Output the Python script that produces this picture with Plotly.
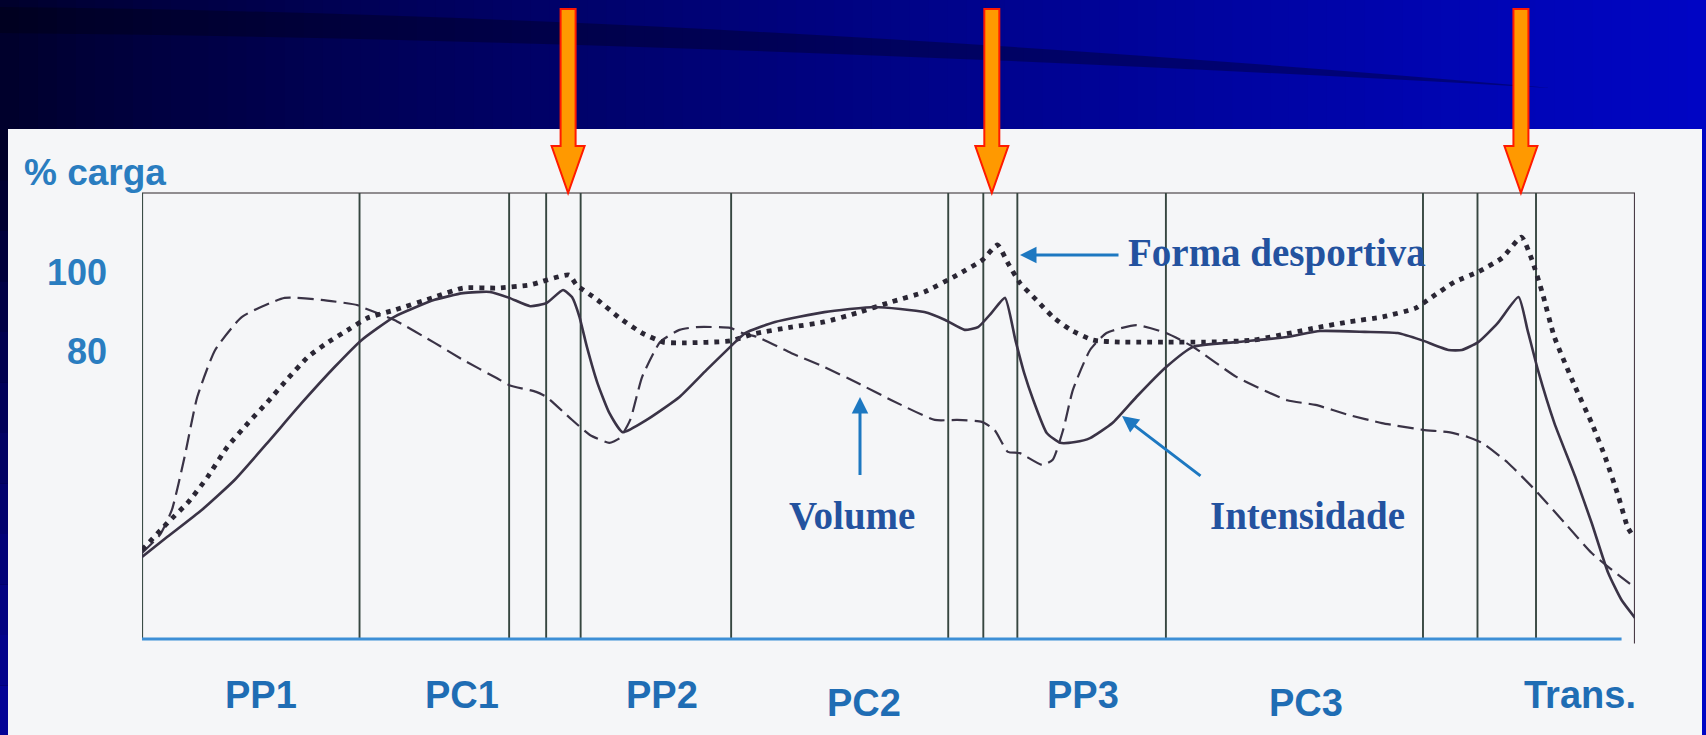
import plotly.graph_objects as go

# ---------------- data (x: position in the training cycle, 0-100 ; y: % carga) -------------
intensidade_x = [0, 1.7, 4.0, 6.2, 8.4, 10.7, 12.9, 14.7, 16.9, 19.6, 21.5, 23.3, 24.6, 26.0, 27.1,
                 28.2, 28.8, 29.3, 29.8, 30.5, 31.3, 32.2, 33.8, 36.0, 37.8, 39.4, 40.4, 42.4, 45.7,
                 49.1, 52.4, 53.8, 55.1, 56.0, 56.9, 57.8, 58.5, 59.1, 59.7, 60.6, 61.5, 62.5, 63.5,
                 65.0, 66.6, 68.6, 70.4, 73.3, 76.7, 78.9, 81.9, 84.1, 85.7, 87.5, 88.4, 89.5, 90.8,
                 92.2, 92.8, 93.5, 94.6, 96.0, 97.1, 98.2, 99.1, 100]
intensidade_y = [28.1, 33.2, 40.0, 47.6, 57.0, 67.1, 76.2, 83.0, 88.9, 93.2, 94.9, 95.2, 93.7, 91.6, 92.4,
                 95.7, 93.9, 88.9, 81.3, 72.2, 64.6, 59.7, 62.8, 68.6, 75.4, 81.3, 84.8, 87.6, 90.1,
                 91.4, 90.1, 88.1, 85.6, 86.3, 89.9, 93.7, 83.0, 74.5, 67.8, 59.5, 57.0, 57.2, 58.2,
                 62.0, 68.6, 76.2, 81.3, 82.5, 83.8, 85.3, 85.1, 84.8, 83.0, 80.5, 80.5, 82.5, 87.3,
                 93.9, 85.6, 75.4, 62.0, 48.4, 36.7, 24.1, 17.2, 12.7]

forma_x = [0, 1.7, 3.1, 4.4, 5.7, 7.1, 8.4, 9.8, 11.1, 12.4, 13.8, 15.1, 16.9, 19.6, 21.5, 23.8, 26.0,
           28.6, 29.1, 30.5, 32.0, 33.5, 34.9, 36.2, 39.4, 41.0, 43.5, 45.7, 47.9, 50.2, 52.4, 54.6,
           56.3, 57.3, 58.0, 58.8, 59.9, 61.0, 62.2, 63.7, 65.5, 68.6, 71.1, 74.4, 78.6, 80.8, 83.1,
           85.3, 86.4, 87.9, 89.5, 91.1, 92.4, 93.1, 93.8, 94.6, 96.0, 97.1, 98.0, 98.9, 99.5, 99.9]
forma_y = [29.9, 36.7, 42.0, 48.4, 55.9, 62.0, 67.3, 73.4, 78.7, 82.3, 85.6, 88.6, 90.6, 93.9, 96.2, 96.2,
           97.0, 99.5, 97.0, 93.2, 88.6, 84.8, 82.5, 82.3, 82.8, 84.6, 86.3, 87.6, 89.9, 92.7, 95.2,
           99.5, 103.3, 107.1, 102.5, 97.5, 93.2, 88.9, 85.6, 83.0, 82.5, 82.5, 82.5, 83.0, 86.1, 87.6,
           88.9, 91.1, 93.9, 97.7, 100.3, 103.8, 109.1, 103.3, 94.9, 83.8, 71.1, 62.0, 53.4, 43.3,
           35.7, 33.2]

volume_x = [0, 1.2, 2.0, 2.85, 3.7, 4.9, 6.7, 9.55, 12.0, 14.4, 14.9, 16.9, 19.6, 21.5, 23.75, 24.6,
            26.4, 27.1, 28.6, 30.0, 31.3, 32.0, 32.7, 33.5, 34.7, 36.0, 37.15, 39.4, 40.2, 41.2, 43.5,
            45.7, 47.9, 50.2, 53.1, 54.6, 56.25, 57.1, 58.0, 58.8, 60.3, 61.0, 61.7, 62.35, 63.5,
            64.6, 66.6, 68.6, 70.4, 73.3, 76.7, 78.6, 80.8, 83.05, 85.8, 87.5, 88.8, 89.75, 91.5,
            93.3, 95.3, 97.1, 98.2, 100]
volume_y = [29.1, 33.7, 40.0, 53.4, 68.6, 80.5, 88.9, 93.7, 93.2, 91.9, 91.1, 88.1, 82.3, 78.0, 73.4, 71.6,
            69.9, 68.6, 63.5, 59.0, 57.0, 58.2, 62.8, 73.7, 82.5, 85.6, 86.3, 86.1, 84.8, 83.8, 79.7,
            76.2, 72.2, 67.8, 62.8, 62.8, 62.3, 60.3, 54.7, 54.4, 51.4, 52.7, 60.3, 70.4, 80.5,
            84.8, 86.8, 84.8, 81.3, 73.7, 67.8, 66.6, 64.1, 62.0, 60.3, 59.7, 58.5, 57.0, 51.9,
            45.1, 36.7, 29.1, 25.6, 20.3]

phase_boundaries = [14.57, 24.59, 27.07, 29.38, 39.46, 54.0, 56.35, 58.63, 68.58, 85.8, 89.45, 93.37]
phase_labels = ["PP1", "PC1", "PP2", "PC2", "PP3", "PC3", "Trans."]
phase_label_x = [7.94, 21.41, 34.81, 48.34, 63.02, 77.96, 96.31]
phase_label_offset = [0, 0, 0, 1, 0, 1, 0]   # lower row flag (PC2 / PC3 sit a bit lower)
peak_arrows_x = [28.54, 56.92, 92.36]
y_ticks = [80, 100]

# ---------------- geometry helpers (figure pixels -> paper) ----------------
W, H = 1706, 735
ML, MR, MT, MB = 142, 71, 193, 96
PW, PH = W - ML - MR, H - MT - MB
Y_RANGE = [7.34, 120.25]


def pxp(px):
    return (px - ML) / PW


def pyp(py):
    return (H - MB - py) / PH


shapes = []

# background gradient (slide)
N = 90
for i in range(N):
    t = (i + 0.5) / N
    b = int(42 + 155 * (t ** 0.8))
    g = int(0 + 6 * t)
    shapes.append(dict(type="rect", xref="paper", yref="paper", layer="below",
                       x0=pxp(i * W / N), x1=pxp((i + 1) * W / N + 1), y0=pyp(H), y1=pyp(0),
                       fillcolor=f"rgb(0,{g},{b})", line=dict(width=0)))
# subtle dark swoosh, tapering to the right
shapes.append(dict(type="path", xref="paper", yref="paper", layer="below",
                   path=(f"M {pxp(0)},{pyp(7)} Q {pxp(700)},{pyp(14)} {pxp(1550)},{pyp(88)} "
                         f"Q {pxp(700)},{pyp(40)} {pxp(0)},{pyp(33)} Z"),
                   fillcolor="rgba(0,0,10,0.32)", line=dict(width=0)))
# left edge slight vertical brightening
for i in range(12):
    t = i / 11
    shapes.append(dict(type="rect", xref="paper", yref="paper", layer="below",
                       x0=pxp(0), x1=pxp(9), y0=pyp(130 + (i + 1) * 50.5), y1=pyp(130 + i * 50.5),
                       fillcolor=f"rgb({int(4 * t)},{int(4 * t)},{int(40 + 110 * t)})", line=dict(width=0)))
# white panel
shapes.append(dict(type="rect", xref="paper", yref="paper", layer="below",
                   x0=pxp(8), x1=pxp(1702), y0=pyp(H + 2), y1=pyp(129),
                   fillcolor="#f5f6f8", line=dict(width=0)))
# top frame line
shapes.append(dict(type="line", xref="x", yref="paper", layer="below",
                   x0=0, x1=100, y0=1, y1=1, line=dict(color="#6e6a6e", width=1.6)))
# left axis and right frame
shapes.append(dict(type="line", xref="x", yref="paper", layer="below",
                   x0=0, x1=0, y0=0, y1=1, line=dict(color="#3b4d47", width=2.2)))
shapes.append(dict(type="line", xref="x", yref="paper", layer="below",
                   x0=100, x1=100, y0=-0.01, y1=1, line=dict(color="#4a3c48", width=2.2)))
# phase boundaries
for xb in phase_boundaries:
    shapes.append(dict(type="line", xref="x", yref="paper", layer="below",
                       x0=xb, x1=xb, y0=0, y1=1, line=dict(color="#364640", width=1.9)))
# bottom blue axis
shapes.append(dict(type="line", xref="x", yref="paper", layer="below",
                   x0=0, x1=99.1, y0=0, y1=0, line=dict(color="#3d8fd6", width=3)))

# orange peak arrows
dx_shaft = 7.5 / (PW / 100)
dx_head = 16.5 / (PW / 100)
for ax in peak_arrows_x:
    path = (f"M {ax - dx_shaft},{pyp(9)} L {ax + dx_shaft},{pyp(9)} L {ax + dx_shaft},{pyp(146)} "
            f"L {ax + dx_head},{pyp(146)} L {ax},{pyp(193)} L {ax - dx_head},{pyp(146)} "
            f"L {ax - dx_shaft},{pyp(146)} Z")
    shapes.append(dict(type="path", xref="x", yref="paper", layer="above", path=path,
                       fillcolor="#ff9900", line=dict(color="#ff1a00", width=2)))

fig = go.Figure()
line_col = "#3a3346"
fig.add_trace(go.Scatter(x=volume_x, y=volume_y, mode="lines", name="Volume",
                         line=dict(color=line_col, width=2.2, dash="16px,7px", shape="spline", smoothing=0.5)))
fig.add_trace(go.Scatter(x=forma_x, y=forma_y, mode="lines", name="Forma desportiva",
                         line=dict(color="#2a2634", width=4.8, dash="4.8px,6px", shape="spline", smoothing=0.5)))
fig.add_trace(go.Scatter(x=intensidade_x, y=intensidade_y, mode="lines", name="Intensidade",
                         line=dict(color=line_col, width=2.6, shape="spline", smoothing=0.5)))

ann = []
sans = "Liberation Sans, Arial, sans-serif"
serif = "Liberation Serif, Times New Roman, serif"
lab_col = "#1f6db4"
txt_col = "#23529f"
arr_col = "#1d78c1"

ann.append(dict(text="<b>% carga</b>", xref="paper", yref="paper", x=pxp(22), y=pyp(172),
                xanchor="left", yanchor="middle", showarrow=False,
                font=dict(family=sans, size=37, color="#2a7dc0")))
for v in y_ticks:
    ann.append(dict(text=f"<b>{v}</b>", xref="paper", yref="y", x=pxp(109), y=v,
                    xanchor="right", yanchor="middle", showarrow=False,
                    font=dict(family=sans, size=36, color="#2a7dc0")))
for lab, lx, low in zip(phase_labels, phase_label_x, phase_label_offset):
    ann.append(dict(text=f"<b>{lab}</b>", xref="x", yref="paper", x=lx, y=pyp(703 if low else 695),
                    xanchor="center", yanchor="middle", showarrow=False,
                    font=dict(family=sans, size=38, color=lab_col)))

# text labels with arrows
ann.append(dict(text="<b>Forma desportiva</b>", xref="paper", yref="paper", x=pxp(1126), y=pyp(253),
                xanchor="left", yanchor="middle", showarrow=False,
                font=dict(family=serif, size=39, color=txt_col)))
ann.append(dict(text="<b>Volume</b>", xref="paper", yref="paper", x=pxp(852), y=pyp(515),
                xanchor="center", yanchor="middle", showarrow=False,
                font=dict(family=serif, size=39, color=txt_col)))
ann.append(dict(text="<b>Intensidade</b>", xref="paper", yref="paper", x=pxp(1307), y=pyp(515),
                xanchor="center", yanchor="middle", showarrow=False,
                font=dict(family=serif, size=39, color=txt_col)))


def arrow(x_tail, y_tail, x_head, y_head):
    return dict(text=" ", font=dict(size=1), xref="paper", yref="paper", axref="pixel", ayref="pixel",
                x=pxp(x_head), y=pyp(y_head), ax=x_tail - x_head, ay=y_tail - y_head, showarrow=True,
                arrowhead=2, arrowsize=1.1, arrowwidth=3, arrowcolor=arr_col, standoff=0, startstandoff=0)


ann.append(arrow(1120, 255, 1020, 255))
ann.append(arrow(860, 477, 860, 397))
ann.append(arrow(1202, 477, 1122, 416))

fig.update_layout(
    width=W, height=H,
    margin=dict(l=ML, r=MR, t=MT, b=MB, pad=0),
    paper_bgcolor="#000060", plot_bgcolor="rgba(0,0,0,0)",
    showlegend=False,
    xaxis=dict(range=[0, 100], visible=False, fixedrange=True),
    yaxis=dict(range=Y_RANGE, visible=False, fixedrange=True),
    shapes=shapes, annotations=ann,
)
fig.write_html("out.html", config={"displayModeBar": False})
